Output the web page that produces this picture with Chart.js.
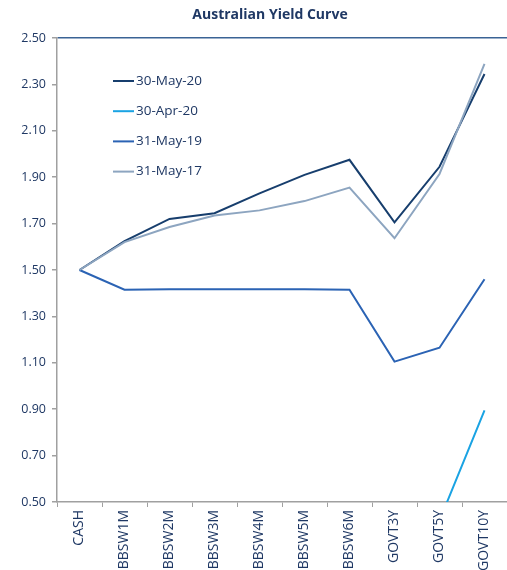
<!DOCTYPE html>
<html>
<head>
<meta charset="utf-8">
<script src="https://cdn.jsdelivr.net/npm/chart.js@4"></script>
<style>
  body { margin: 0; background: #fff; }
  #wrap { width: 507px; height: 570px; }
</style>
</head>
<body>
<div id="wrap"><canvas id="yc" width="507" height="570"></canvas></div>
<script>
const categories = ['CASH', 'BBSW1M', 'BBSW2M', 'BBSW3M', 'BBSW4M', 'BBSW5M', 'BBSW6M', 'GOVT3Y', 'GOVT5Y', 'GOVT10Y'];
const may20 = [1.50, 1.625, 1.72, 1.745, 1.83, 1.91, 1.975, 1.705, 1.945, 2.345];
const apr20 = [0.25, 0.10, 0.10, 0.09, 0.11, 0.14, 0.18, 0.23, 0.42, 0.895];
const may19 = [1.50, 1.415, 1.417, 1.417, 1.417, 1.417, 1.415, 1.105, 1.165, 1.46];
const may17 = [1.50, 1.62, 1.685, 1.735, 1.757, 1.797, 1.855, 1.637, 1.914, 2.388];
const chartTitle = 'Australian Yield Curve';

const NAVY = '#1f3864';
const FONT = "'Open Sans', sans-serif";

// title and legend drawn by hand to sit where the original puts them
const decor = {
  id: 'decor',
  afterDraw(chart) {
    const c = chart.ctx;
    c.save();
    c.fillStyle = NAVY;
    c.textBaseline = 'middle';
    c.textAlign = 'center';
    c.font = 'bold 14px ' + FONT;
    c.fillText(chartTitle, 270, 15);

    c.textAlign = 'left';
    c.font = '13.5px ' + FONT;
    chart.data.datasets.forEach((ds, i) => {
      const y = 81 + i * 30.2;
      c.strokeStyle = ds.borderColor;
      c.lineWidth = 2;
      c.beginPath();
      c.moveTo(113, y);
      c.lineTo(134, y);
      c.stroke();
      c.fillStyle = NAVY;
      c.fillText(ds.label, 136, y);
    });
    c.restore();
  }
};

new Chart(document.getElementById('yc'), {
  type: 'line',
  data: {
    labels: categories,
    datasets: [
      { label: '30-May-20', data: may20, borderColor: '#173e6d', borderWidth: 2, order: 3 },
      { label: '30-Apr-20', data: apr20, borderColor: '#1aa3e3', borderWidth: 2, order: 2 },
      { label: '31-May-19', data: may19, borderColor: '#2b63b4', borderWidth: 2, order: 1 },
      { label: '31-May-17', data: may17, borderColor: '#8da5c0', borderWidth: 2, order: 0 }
    ]
  },
  options: {
    responsive: false,
    animation: false,
    elements: { point: { radius: 0 }, line: { tension: 0 } },
    layout: { padding: { left: 0, right: 0, top: 38, bottom: 0 } },
    plugins: {
      legend: { display: false },
      tooltip: { enabled: false },
      title: { display: false }
    },
    scales: {
      x: {
        offset: true,
        afterFit(s) { s.height = 68; },
        border: { color: '#a0a0a0', width: 1.5 },
        grid: { offset: true, color: 'transparent', tickColor: '#a0a0a0', tickLength: 5 },
        ticks: {
          color: NAVY,
          font: { family: FONT, size: 14 },
          minRotation: 90,
          maxRotation: 90,
          autoSkip: false,
          padding: 3
        }
      },
      y: {
        min: 0.5,
        max: 2.5,
        afterFit(s) { s.width = 57; },
        border: { color: '#a0a0a0', width: 1.5 },
        grid: {
          color: ctx => (ctx.tick && ctx.tick.value === 2.5 ? '#3a6395' : 'transparent'),
          tickColor: '#a0a0a0',
          tickLength: 5,
          lineWidth: 1.5
        },
        ticks: {
          stepSize: 0.2,
          color: NAVY,
          font: { family: FONT, size: 12.5 },
          padding: 6,
          callback: v => v.toFixed(2)
        }
      }
    }
  },
  plugins: [decor]
});
</script>
</body>
</html>
